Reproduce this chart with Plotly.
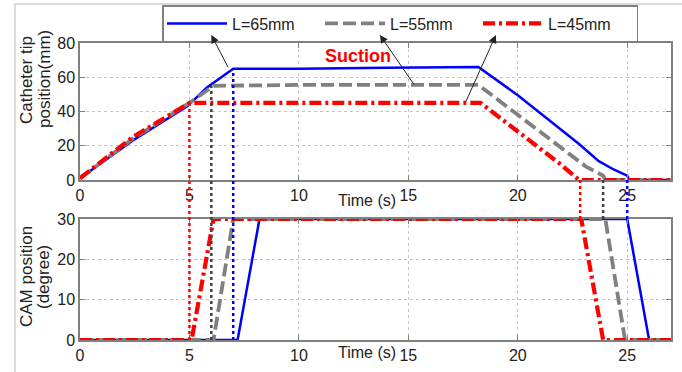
import plotly.graph_objects as go

# ---------------- data ----------------
labels = ["L=65mm", "L=55mm", "L=45mm"]
colors = ["#0000ff", "#808080", "#ff0000"]
dot_colors = ["#0000ff", "#404040", "#ff0000"]

# catheter tip position (mm) vs time (s)
tip_t_65 = [0, 2.4, 4.9, 5.8, 7.0, 10, 14, 17, 18.2, 20, 22.8, 23.7, 24.4, 25.0, 25.1, 27]
tip_p_65 = [1, 23, 43, 54, 65, 65, 65.5, 66, 66, 49.5, 21, 11, 6, 2.5, 0, 0]
tip_t_55 = [0, 2.4, 5.0, 6.1, 10, 14, 18.2, 23.1, 23.9, 24.0, 27]
tip_p_55 = [1, 24, 45, 55, 55.5, 55.5, 55.5, 8, 2.5, 0, 0]
tip_t_45 = [0, 2.4, 5.0, 10, 14, 18.3, 21.9, 22.8, 27]
tip_p_45 = [1, 25, 45, 45, 45, 45, 9.7, 0, 0]

# CAM position (degree) vs time (s)
cam_t_65 = [0, 7.2, 8.2, 25.0, 26.0, 27]
cam_p_65 = [0, 0, 30, 30, 0, 0]
cam_t_55 = [0, 6.1, 7.0, 24.0, 24.9, 27]
cam_p_55 = [0, 0, 30, 30, 0, 0]
cam_t_45 = [0, 5.1, 6.1, 22.9, 23.9, 27]
cam_p_45 = [0, 0, 30, 30, 0, 0]

plateau = [65, 55, 45]
suction_start = [7.0, 6.0, 5.0]
suction_end = [25.0, 23.9, 22.85]
arrow_tail_t = [6.8, 15.3, 17.6]
arrow_head_t = [6.0, 13.7, 19.0]

x_ticks = [0, 5, 10, 15, 20, 25]
top_y_ticks = [0, 20, 40, 60, 80]
bot_y_ticks = [0, 10, 20, 30]

# ---------------- layout geometry ----------------
W, H = 682, 372
ml, mr, mt, mb = 80, 11, 43, 32
plot_h = H - mt - mb
top_dom = [1 - (180 - mt) / plot_h, 1.0]
bot_dom = [0.0, (340 - 219) / plot_h]
top_rng = [0, 80]
bot_rng = [0, 30]
x_rng = [0, 27]


def ypaper(v, dom, rng):
    return dom[0] + (v - rng[0]) / (rng[1] - rng[0]) * (dom[1] - dom[0])


def ppx(px):  # pixel y -> paper y
    return 1 - (px - mt) / plot_h


def pxx(px):  # pixel x -> paper x
    return (px - ml) / (W - ml - mr)


def top_data_y(px):  # pixel y -> data y of the upper panel
    return (180 - px) / (137 / 80)


FONT = "Arial, Liberation Sans, sans-serif"
styles = [
    dict(width=2.5, dash="solid"),
    dict(width=3.8, dash="13px,5px"),
    dict(width=4.2, dash="12px,4px,3px,4px"),
]

tips = [(tip_t_65, tip_p_65), (tip_t_55, tip_p_55), (tip_t_45, tip_p_45)]
cams = [(cam_t_65, cam_p_65), (cam_t_55, cam_p_55), (cam_t_45, cam_p_45)]

fig = go.Figure()
for i in range(3):
    fig.add_trace(go.Scatter(
        x=tips[i][0], y=tips[i][1], mode="lines", name=labels[i],
        legendgroup=labels[i], xaxis="x", yaxis="y",
        line=dict(color=colors[i], **styles[i])))
for i in range(3):
    fig.add_trace(go.Scatter(
        x=cams[i][0], y=cams[i][1], mode="lines", name=labels[i],
        legendgroup=labels[i], showlegend=False, xaxis="x2", yaxis="y2",
        line=dict(color=colors[i], **styles[i])))

shapes = []
# vertical dotted lines crossing both panels
for i in range(3):
    shapes.append(dict(type="line", xref="x", yref="paper",
                       x0=suction_start[i], x1=suction_start[i],
                       y0=ypaper(0, bot_dom, bot_rng),
                       y1=ypaper(plateau[i], top_dom, top_rng),
                       line=dict(color=dot_colors[i], width=2.5, dash="dot"),
                       layer="above"))
    shapes.append(dict(type="line", xref="x", yref="paper",
                       x0=suction_end[i], x1=suction_end[i],
                       y0=ypaper(30, bot_dom, bot_rng),
                       y1=ypaper(0, top_dom, top_rng),
                       line=dict(color=dot_colors[i], width=2.5, dash="dot"),
                       layer="above"))
# outer light frame
shapes.append(dict(type="rect", xref="paper", yref="paper",
                   x0=pxx(15), x1=pxx(700), y0=ppx(400), y1=ppx(4),
                   line=dict(color="#d0d0d0", width=1.5), layer="below"))

annotations = []
# arrows from curves to legend
for i in range(3):
    annotations.append(dict(
        xref="x", yref="y", axref="x", ayref="y",
        x=arrow_head_t[i], y=top_data_y(35),
        ax=arrow_tail_t[i], ay=plateau[i], text="",
        showarrow=True, arrowhead=2, arrowsize=1.6, arrowwidth=1,
        arrowcolor="#222222"))
annotations.append(dict(xref="x", yref="y", x=12.7, y=72.4, text="<b>Suction</b>",
                        showarrow=False, font=dict(family=FONT, size=18, color="#ff0000")))
annotations.append(dict(xref="x", yref="paper", x=13.1, y=ppx(200), text="Time (s)",
                        showarrow=False, font=dict(family=FONT, size=16, color="#222222")))
annotations.append(dict(xref="x2", yref="paper", x=13.1, y=ppx(363), text="Time (s)",
                        showarrow=False, font=dict(family=FONT, size=16, color="#222222")))
for txt, xc, yc in [("Catheter tip", 26, 80), ("position(mm)", 44, 79),
                    ("CAM position", 26, 277), ("(degree)", 43, 277)]:
    annotations.append(dict(xref="paper", yref="paper", x=pxx(xc), y=ppx(yc), text=txt,
                            textangle=-90, showarrow=False,
                            xanchor="center", yanchor="middle",
                            font=dict(family=FONT, size=17, color="#222222")))

axis_common = dict(
    showline=True, linecolor="#808080", linewidth=1.5, mirror="ticks",
    ticks="inside", ticklen=5, tickcolor="#808080",
    showgrid=True, gridcolor="#c4c4c4", griddash="dot", gridwidth=1,
    zeroline=False, automargin=False,
    tickfont=dict(family=FONT, size=16, color="#222222"),
)

fig.update_layout(
    width=W, height=H, margin=dict(l=ml, r=mr, t=mt, b=mb, autoexpand=False),
    paper_bgcolor="white", plot_bgcolor="white",
    showlegend=True,
    legend=dict(orientation="h", x=pxx(162), y=ppx(5), xanchor="left", yanchor="top",
                bordercolor="#808080", borderwidth=1.5, bgcolor="white",
                font=dict(family=FONT, size=16, color="#222222"),
                entrywidth=83, entrywidthmode="pixels", itemwidth=60,
                tracegroupgap=0),
    xaxis=dict(domain=[0, 1], range=x_rng, tickvals=x_ticks, anchor="y", **axis_common),
    yaxis=dict(domain=top_dom, range=top_rng, tickvals=top_y_ticks, anchor="x", **axis_common),
    xaxis2=dict(domain=[0, 1], range=x_rng, tickvals=x_ticks, anchor="y2", **axis_common),
    yaxis2=dict(domain=bot_dom, range=bot_rng, tickvals=bot_y_ticks, anchor="x2", **axis_common),
    shapes=shapes, annotations=annotations,
)

fig.write_html("out.html")
